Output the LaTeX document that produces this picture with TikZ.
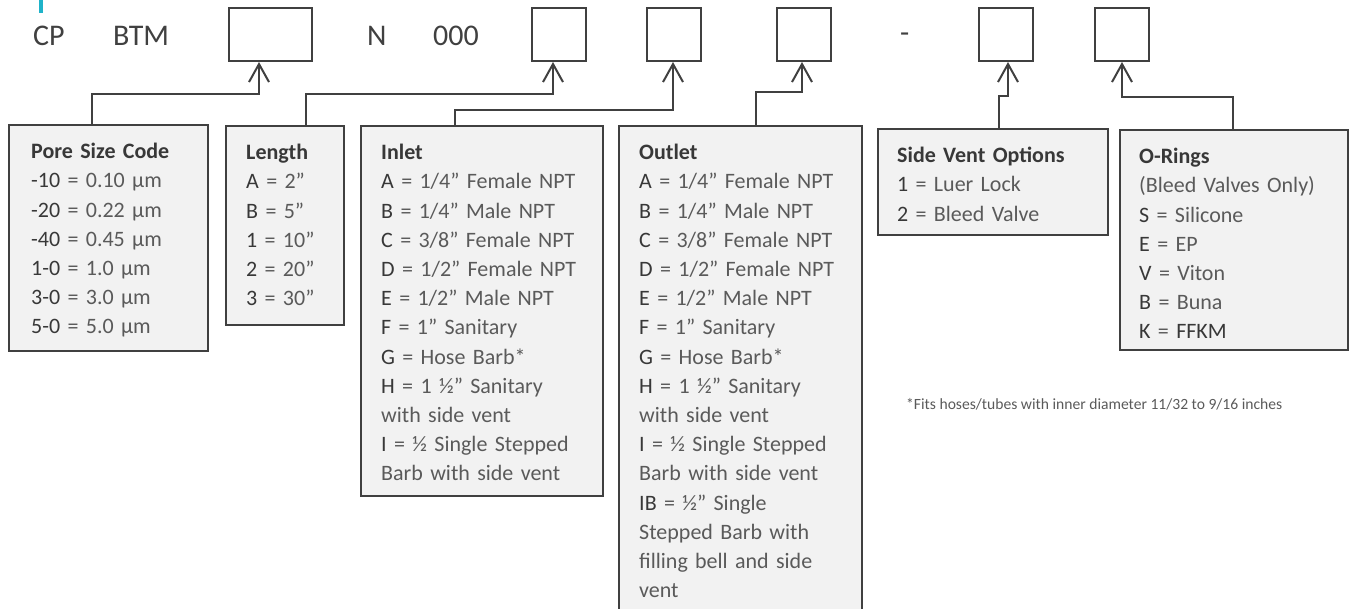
\documentclass[tikz,border=0pt]{standalone}
\usepackage{fontspec}
\setmainfont{Carlito}
\usepackage{tikz}
\usetikzlibrary{arrows.meta, positioning}
\usepackage{xcolor}

\definecolor{linegray}{HTML}{404040}
\definecolor{boxfill}{HTML}{F2F2F2}
\definecolor{keygray}{HTML}{383838}
\definecolor{valgray}{HTML}{5A5A5A}
\definecolor{accent}{HTML}{1FB3C9}
\newcommand{\kv}[2]{\textcolor{keygray}{#1} = #2}

\begin{document}
\begin{tikzpicture}[x=1pt, y=-1pt,
    codebox/.style={draw=linegray, line width=2pt, minimum height=53pt, inner sep=0pt},
    optbox/.style={draw=linegray, line width=2pt, fill=boxfill, anchor=north west, inner sep=0pt},
    opttext/.style={anchor=north west, inner sep=0pt, text=valgray, align=left, text width=240pt,
        font=\fontsize{22}{29.2}\selectfont},
    code/.style={anchor=base west, inner sep=0pt, text=linegray, font=\fontsize{30}{35}\selectfont},
    link/.style={draw=linegray, line width=2pt, -{Straight Barb[length=18pt, width=20pt]}}]
        \useasboundingbox (0,0) rectangle (1349,609);
        \clip (0,0) rectangle (1349,609);
        \fill[accent] (39,0) rectangle (43,13);
        % part number row
        \node[code] (cp) at (33,46) {CP};
        \node[code] (btm) at (113,46) {BTM};
        \node[code] (nn) at (367,46) {N};
        \node[code] (zeros) at (433,46) {000};
        \node[code] (dash) at (900,43) {-};
        \node[codebox, minimum width=83pt] (c1) at (270.5,34.5) {};
        \node[codebox, minimum width=54pt] (c2) at (559,34.5) {};
        \node[codebox, minimum width=54pt] (c3) at (674,34.5) {};
        \node[codebox, minimum width=54pt] (c4) at (804,34.5) {};
        \node[codebox, minimum width=54pt] (c5) at (1005.5,34.5) {};
        \node[codebox, minimum width=54pt] (c6) at (1122,34.5) {};
        % option boxes
        \node[optbox, minimum width=199pt, minimum height=226pt] (pore) at (8,124) {};
        \node[optbox, minimum width=118pt, minimum height=199pt] (len) at (225,125) {};
        \node[optbox, minimum width=242pt, minimum height=370pt] (inlet) at (360,125) {};
        \node[optbox, minimum width=243pt, minimum height=495pt] (outlet) at (618,125) {};
        \node[optbox, minimum width=230pt, minimum height=106pt] (vent) at (877,128) {};
        \node[optbox, minimum width=228pt, minimum height=220pt] (oring) at (1119,129) {};
        \node[opttext] (poretext) at ([xshift=23pt, yshift=-14pt]pore.north west) {\strut\textbf{\textcolor{keygray}{Pore Size Code}}\\
            \kv{-10}{0.10 µm}\\ \kv{-20}{0.22 µm}\\ \kv{-40}{0.45 µm}\\
            \kv{1-0}{1.0 µm}\\ \kv{3-0}{3.0 µm}\\ \kv{5-0}{5.0 µm}};
        \node[opttext] (lentext) at ([xshift=21pt, yshift=-14pt]len.north west) {\strut\textbf{\textcolor{keygray}{Length}}\\
            \kv{A}{2”}\\ \kv{B}{5”}\\ \kv{1}{10”}\\ \kv{2}{20”}\\ \kv{3}{30”}};
        \node[opttext] (inlettext) at ([xshift=21pt, yshift=-14pt]inlet.north west) {\strut\textbf{\textcolor{keygray}{Inlet}}\\
            \kv{A}{1/4” Female NPT}\\ \kv{B}{1/4” Male NPT}\\ \kv{C}{3/8” Female NPT}\\
            \kv{D}{1/2” Female NPT}\\ \kv{E}{1/2” Male NPT}\\ \kv{F}{1” Sanitary}\\
            \kv{G}{Hose Barb*}\\ \kv{H}{1 ½” Sanitary}\\ with side vent\\
            \kv{I}{½ Single Stepped}\\ Barb with side vent};
        \node[opttext] (outlettext) at ([xshift=21pt, yshift=-14pt]outlet.north west) {\strut\textbf{\textcolor{keygray}{Outlet}}\\
            \kv{A}{1/4” Female NPT}\\ \kv{B}{1/4” Male NPT}\\ \kv{C}{3/8” Female NPT}\\
            \kv{D}{1/2” Female NPT}\\ \kv{E}{1/2” Male NPT}\\ \kv{F}{1” Sanitary}\\
            \kv{G}{Hose Barb*}\\ \kv{H}{1 ½” Sanitary}\\ with side vent\\
            \kv{I}{½ Single Stepped}\\ Barb with side vent\\ \kv{IB}{½” Single}\\
            Stepped Barb with\\ filling bell and side\\ vent};
        \node[opttext] (venttext) at ([xshift=20pt, yshift=-14pt]vent.north west) {\strut\textbf{\textcolor{keygray}{Side Vent Options}}\\
            \kv{1}{Luer Lock}\\ \kv{2}{Bleed Valve}};
        \node[opttext] (oringtext) at ([xshift=20pt, yshift=-14pt]oring.north west) {\strut\textbf{\textcolor{keygray}{O-Rings}}\\
            (Bleed Valves Only)\\ \kv{S}{Silicone}\\ \kv{E}{EP}\\ \kv{V}{Viton}\\
            \kv{B}{Buna}\\ \kv{K}{\textcolor{keygray}{FFKM}}};
        \node[anchor=base west, inner sep=0pt, text=valgray, font=\fontsize{15.6}{18}\selectfont] (note) at (906,409)
            {*Fits hoses/tubes with inner diameter 11/32 to 9/16 inches};
        % connectors
        \draw[link] ([xshift=84pt]pore.north west) -- ++(0,-30) -| ([xshift=-11.5pt]c1.south);
        \draw[link] ([xshift=81pt]len.north west) -- ++(0,-31) -| ([xshift=-6pt]c2.south);
        \draw[link] ([xshift=95pt]inlet.north west) -- ++(0,-15) -| ([xshift=-1pt]c3.south);
        \draw[link] ([xshift=138pt]outlet.north west) -- ++(0,-33) -| ([xshift=-2pt]c4.south);
        \draw[link] ([xshift=122pt]vent.north west) -- ++(0,-32) -| ([xshift=2.5pt]c5.south);
        \draw[link] ([xshift=114pt]oring.north west) -- ++(0,-32) -| (c6.south);
    \end{tikzpicture}
\end{document}
